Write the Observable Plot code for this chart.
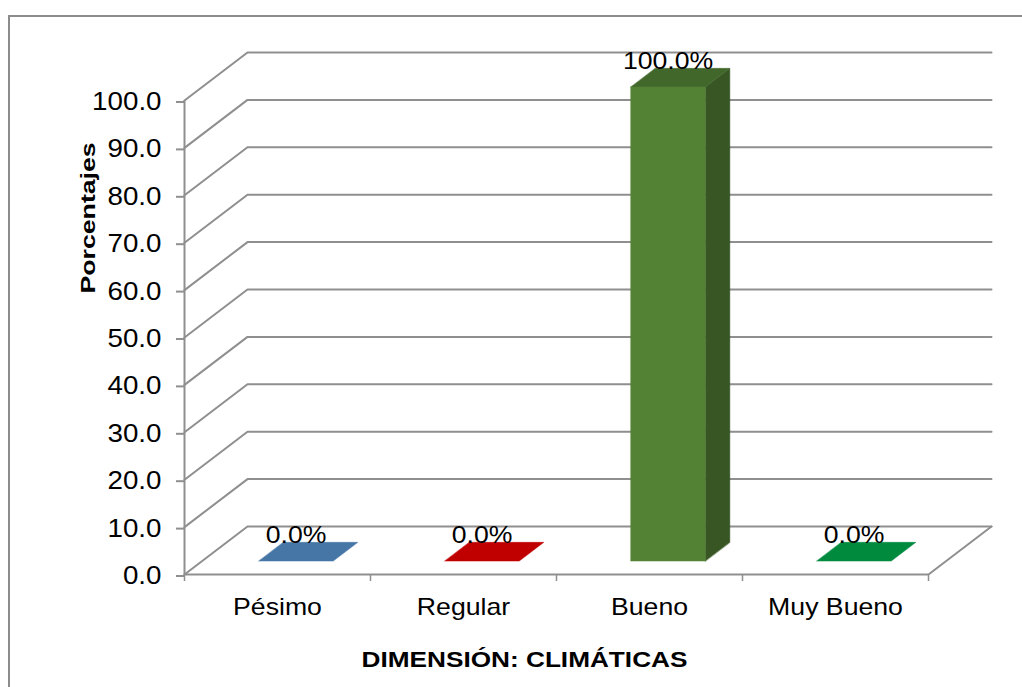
<!DOCTYPE html>
<html><head><meta charset="utf-8">
<script src="https://cdn.jsdelivr.net/npm/d3@7"></script>
<script src="https://cdn.jsdelivr.net/npm/@observablehq/plot@0.6"></script>
<style>
body{margin:0;background:#fff;}
#frame{position:absolute;left:8px;top:15px;width:1100px;height:800px;border-left:2px solid #8c8c8c;border-top:2px solid #8c8c8c;}
#chart{position:absolute;left:0;top:0;}
</style></head><body><div id="frame"></div><div id="chart"></div>
<script>
// Survey result: percentage per rating level
const categories = ["Pésimo", "Regular", "Bueno", "Muy Bueno"];
const values = [0, 0, 100, 0];
const valueLabels = ["0.0%", "0.0%", "100.0%", "0.0%"];
const topColors = ["#4676a6", "#c00000", "#42672b", "#008a3e"];
const frontColors = ["#4a7eb5", "#c00000", "#548235", "#00904a"];
const sideColors = ["#365d85", "#8f0000", "#375623", "#006a34"];
const yTicks = d3.range(0, 101, 10);
const xTitle = "DIMENSIÓN: CLIMÁTICAS";
const yTitle = "Porcentajes";

// Oblique 3D projection: one unit of depth shifts right/up in data units
const DX = 63 / 186;        // category units per depth unit
const DY = 48 * 100 / 474;  // percentage units per depth unit
const P = (i, v, d) => ({x: i + d * DX, y: v + d * DY});

// Bar footprint inside each category slot and along depth
const bx0 = 0.305, bx1 = 0.705, d0 = 0.28, d1 = 0.67;

// Walls: gridline on left wall + back wall for each tick
const grid = yTicks.flatMap(v => [P(0, v, 0), P(0, v, 1), P(4, v, 1)].map(p => ({...p, k: v})));
// Floor: front edge and right edge
const floor = [P(0, 0, 0), P(4, 0, 0), P(4, 0, 1)];

const faces = [];
categories.forEach((c, i) => {
  const v = values[i];
  const xl = i + bx0, xr = i + bx1;
  const side = [P(xr, 0, d0), P(xr, v, d0), P(xr, v, d1), P(xr, 0, d1)];
  const top = [P(xl, v, d0), P(xr, v, d0), P(xr, v, d1), P(xl, v, d1)];
  const front = [P(xl, 0, d0), P(xr, 0, d0), P(xr, v, d0), P(xl, v, d0)];
  if (v > 0) side.forEach(p => faces.push({...p, f: c + "s", color: sideColors[i]}));
  top.forEach(p => faces.push({...p, f: c + "t", color: topColors[i]}));
  if (v > 0) front.forEach(p => faces.push({...p, f: c + "f", color: frontColors[i]}));
});

const labelPts = categories.map((c, i) => ({...P(i + (bx0 + bx1) / 2, values[i], d0), t: valueLabels[i]}));

const gray = "#8f8f8f";
const chart = Plot.plot({
  width: 1022, height: 687,
  marginLeft: 184, marginRight: 94, marginTop: 100, marginBottom: 113,
  x: {type: "linear", domain: [0, 4], axis: null},
  y: {domain: [0, 100], axis: null},
  color: {type: "identity"},
  style: {fontFamily: "'Liberation Sans', Arial, sans-serif", background: "transparent", overflow: "visible"},
  marks: [
    Plot.line(grid, {x: "x", y: "y", z: "k", stroke: gray, strokeWidth: 2}),
    Plot.line(floor, {x: "x", y: "y", stroke: gray, strokeWidth: 2}),
    Plot.ruleX([0], {y1: 0, y2: 100, stroke: gray, strokeWidth: 2}),
    Plot.axisY({ticks: yTicks, tickFormat: d => d.toFixed(1), tickSize: 8, tickPadding: 15, dy: 1.5,
      fontSize: 25, stroke: gray, strokeWidth: 2, strokeOpacity: 1, label: null, fill: "#000"}),
    Plot.axisX({ticks: [0, 1, 2, 3, 4], tickSize: 7, tickFormat: () => "", stroke: gray,
      strokeWidth: 1.5, strokeOpacity: 1, label: null}),
    Plot.axisX({ticks: categories.map((c, i) => i + 0.5), tickSize: 0, tickPadding: 23,
      tickFormat: t => categories[Math.round(t - 0.5)], fontSize: 24, fill: "#000", label: null}),
    Plot.line(faces, {x: "x", y: "y", z: "f", fill: "color", stroke: "color", strokeWidth: 0.5, curve: "linear-closed"}),
    Plot.text(labelPts, {x: "x", y: "y", text: "t", dy: -18, lineAnchor: "bottom", fontSize: 24, fill: "#000"}),
    Plot.text([xTitle], {frameAnchor: "bottom", dx: -32, dy: 92, lineAnchor: "bottom",
      fontSize: 22, fontWeight: "bold", fill: "#000", className: "xtitle"}),
    Plot.text([yTitle], {frameAnchor: "left", rotate: -90, dx: -96, dy: -44, textAnchor: "start", lineAnchor: "middle",
      fontSize: 21, fontWeight: "bold", fill: "#000", className: "ytitle"})
  ]
});
document.getElementById("chart").appendChild(chart);

// Widen glyphs slightly to the proportions of the original typeface
chart.querySelectorAll("text").forEach(t => {
  const len = t.getComputedTextLength();
  if (!len) return;
  let f = 1.11;
  if (t.closest(".xtitle")) f = 1.19;
  if (t.closest(".ytitle")) f = 1.27;
  t.setAttribute("textLength", (len * f).toFixed(1));
  t.setAttribute("lengthAdjust", "spacingAndGlyphs");
});
</script></body></html>
